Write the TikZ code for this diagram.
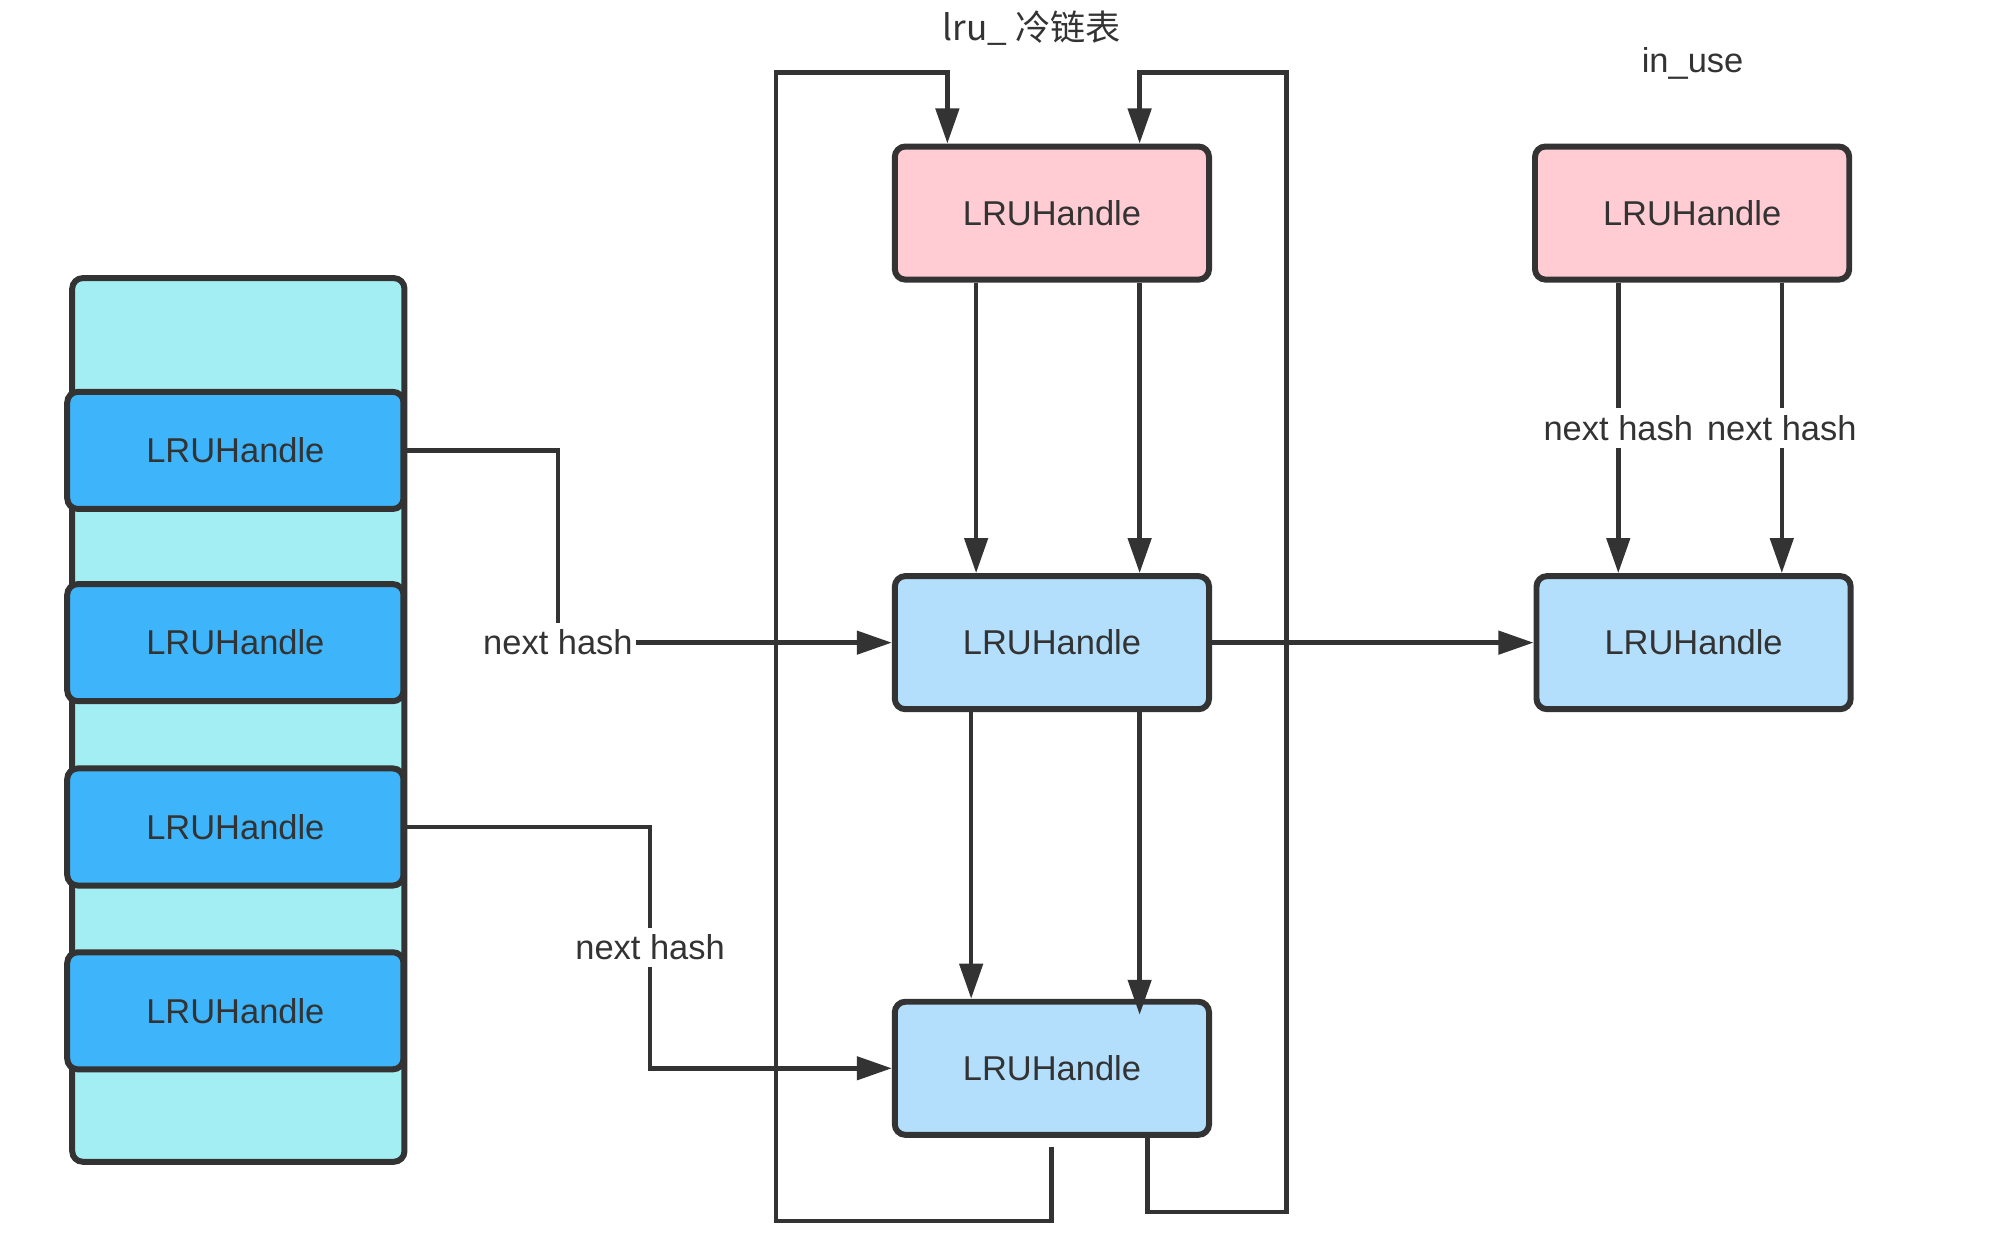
\documentclass[tikz,border=0pt]{standalone}
\usepackage{fontspec}
\setmainfont{Liberation Sans}
\newfontfamily\cjk{Noto Sans CJK SC}
\usetikzlibrary{arrows.meta}

\definecolor{ink}{HTML}{333333}
\definecolor{hotpink}{HTML}{FFCCD3}
\definecolor{paleblue}{HTML}{B3DFFD}
\definecolor{deepblue}{HTML}{3EB5FB}
\definecolor{tablecyan}{HTML}{A3EEF3}

\tikzset{
	handle/.style = {draw = ink, line width = 1.7pt, rounded corners = 3pt,
		minimum width = 3.14cm, minimum height = 1.33cm, inner sep = 0pt,
		text = ink, font = \fontsize{9.8}{12}\selectfont},
	cell/.style = {handle, fill = deepblue, minimum width = 3.36cm, minimum height = 1.17cm},
	link/.style = {draw = ink, line width = 1.3pt},
	arr/.style = {link, -{Triangle[length = 0.35cm, width = 0.23cm]}},
	hashlabel/.style = {fill = white, text = ink, inner xsep = 1pt, inner ysep = 2pt,
		font = \fontsize{9.8}{12}\selectfont},
	caption/.style = {text = ink, inner sep = 0pt, font = \fontsize{9.8}{12}\selectfont}
}

\begin{document}
\begin{tikzpicture}[x = 0.00991cm, y = -0.00991cm]
		\useasboundingbox (0,0) rectangle (2018.2,1250.3);

		% hash table on the left
		\node [handle, fill = tablecyan, minimum width = 3.32cm, minimum height = 8.83cm]
			(tbl) at (240.5,726.5) {};
		\node [cell] (c1) at (237.5,454.5) {LRUHandle};
		\node [cell] (c2) at (237.5,648.5) {LRUHandle};
		\node [cell] (c3) at (237.5,834.5) {LRUHandle};
		\node [cell] (c4) at (237.5,1020) {LRUHandle};

		% lru_ list
		\node [caption] (lrutitle) at (1041,28) {\cjk\fontsize{10}{12}\selectfont lru\_ 冷链表};
		\node [handle, fill = hotpink] (p1) at (1061.5,215) {LRUHandle};
		\node [handle, fill = paleblue] (b2) at (1061.5,648.5) {LRUHandle};
		\node [handle, fill = paleblue] (b3) at (1061.5,1078) {LRUHandle};

		% in_use list
		\node [caption] (usetitle) at (1708,64) {in\_use};
		\node [handle, fill = hotpink] (p4) at (1707.5,215) {LRUHandle};
		\node [handle, fill = paleblue] (b5) at (1709,648.5) {LRUHandle};

		\draw [arr] (985,0 |- p1.south) -- (985,0 |- b2.north);
		\draw [arr] (1150,0 |- p1.south) -- (1150,0 |- b2.north);
		\draw [arr] (980,0 |- b2.south) -- (980,0 |- b3.north);
		\draw [arr] (1150,0 |- b2.south) -- (1150,1024);

		% the two loops round the list
		\draw [arr] (1061,1157) -- (1061,1232) -| (783,73) -| (956,0 |- p1.north);
		\draw [arr] (1158,0 |- b3.south) -- (1158,1223) -| (1298,73) -| (1150,0 |- p1.north);

		\draw [arr] (b2.east) -- (b5.west);
		\draw [arr] (1633,0 |- p4.south) -- node [hashlabel] {next hash} (1633,0 |- b5.north);
		\draw [arr] (1798,0 |- p4.south) -- node [hashlabel] {next hash} (1798,0 |- b5.north);

		% buckets into the list
		\draw [arr] (c1.east) -| (563,0 |- b2.west) node [hashlabel] {next hash} -- (b2.west);
		\draw [arr] (c3.east) -| node [hashlabel, pos = 0.75] {next hash} (656,0 |- b3.west) -- (b3.west);
	\end{tikzpicture}
\end{document}
